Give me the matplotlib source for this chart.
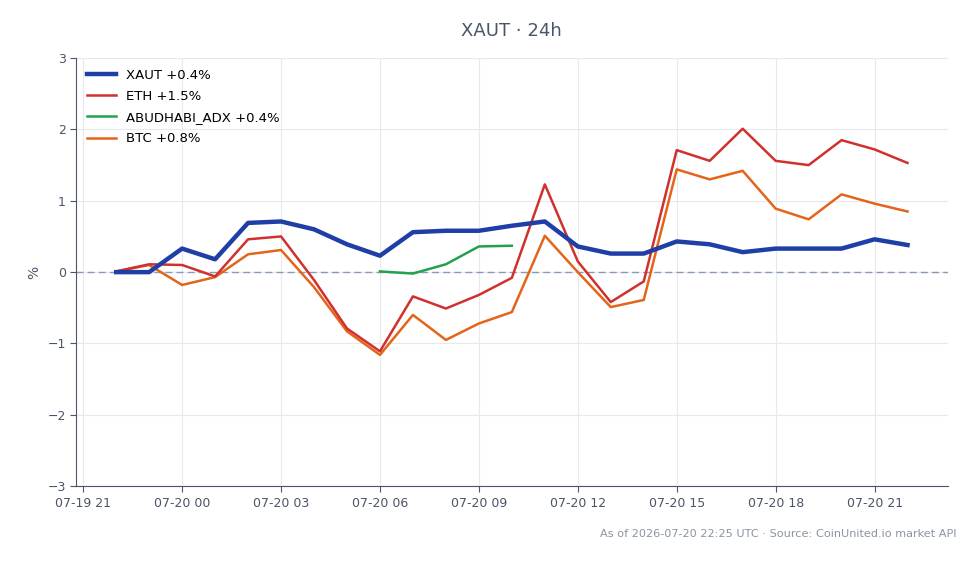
import numpy as np
import pandas as pd
import matplotlib
matplotlib.use("Agg")
import matplotlib.pyplot as plt
import matplotlib.dates as mdates

# hourly points, 07-19 22:00 -> 07-20 22:00
times = pd.date_range("2026-07-19 22:00", "2026-07-20 22:00", freq="h")

xaut = [0.00, 0.00, 0.33, 0.18, 0.69, 0.71, 0.60, 0.39, 0.23, 0.56, 0.58, 0.58, 0.65,
        0.71, 0.36, 0.26, 0.26, 0.43, 0.39, 0.28, 0.33, 0.33, 0.33, 0.46, 0.38]
eth = [0.01, 0.11, 0.10, -0.06, 0.46, 0.50, -0.11, -0.79, -1.11, -0.34, -0.51, -0.32, -0.08,
       1.23, 0.15, -0.42, -0.13, 1.71, 1.56, 2.01, 1.56, 1.50, 1.85, 1.72, 1.53]
btc = [0.01, 0.10, -0.18, -0.07, 0.25, 0.31, -0.21, -0.83, -1.16, -0.60, -0.95, -0.72, -0.56,
       0.51, 0.00, -0.49, -0.39, 1.44, 1.30, 1.42, 0.89, 0.74, 1.09, 0.96, 0.85]
# ADX only trades 06:00 -> 10:00
adx_times = pd.date_range("2026-07-20 06:00", "2026-07-20 10:00", freq="h")
adx = [0.01, -0.02, 0.11, 0.36, 0.37]

labels = ["XAUT +0.4%", "ETH +1.5%", "ABUDHABI_ADX +0.4%", "BTC +0.8%"]

fig = plt.figure(figsize=(9.8, 5.64), dpi=100)
ax = fig.add_axes([0.0776, 0.138, 0.8894, 0.759])

ax.plot(times, xaut, color="#1f3fa6", lw=3.2, label=labels[0], zorder=5)
ax.plot(times, eth, color="#d0312d", lw=1.8, label=labels[1], zorder=4)
ax.plot(adx_times, adx, color="#23a24d", lw=1.8, label=labels[2], zorder=4)
ax.plot(times, btc, color="#e4641a", lw=1.8, label=labels[3], zorder=3)

ax.axhline(0, color="#8a9ab3", lw=1, ls=(0, (5, 3)), zorder=1)

ax.set_ylim(-3, 3)
ax.set_yticks([-3, -2, -1, 0, 1, 2, 3])
ax.set_yticklabels(["\u22123", "\u22122", "\u22121", "0", "1", "2", "3"])
ax.set_xlim(pd.Timestamp("2026-07-19 20:47"), pd.Timestamp("2026-07-20 23:13"))
ax.xaxis.set_major_locator(mdates.HourLocator(byhour=[0, 3, 6, 9, 12, 15, 18, 21]))
ax.xaxis.set_major_formatter(mdates.DateFormatter("%m-%d %H"))
ax.set_ylabel("%", color="#4a5568", fontsize=10)

ax.grid(True, color="#e6e9ee", lw=0.8)
ax.set_axisbelow(True)
for s in ["top", "right"]:
    ax.spines[s].set_visible(False)
for s in ["left", "bottom"]:
    ax.spines[s].set_color("#4a5568")
ax.tick_params(colors="#4a5568", labelsize=9, length=4)

ax.legend(loc="upper left", frameon=False, fontsize=9.5, handlelength=2.2,
          labelspacing=0.62, borderaxespad=0.4)

fig.text(0.522, 0.945, "XAUT \u00b7 24h", ha="center", va="center",
         fontsize=13, color="#4a5568")
fig.text(0.976, 0.053, "As of 2026-07-20 22:25 UTC \u00b7 Source: CoinUnited.io market API",
         ha="right", va="center", fontsize=8.15, color="#8a94a3")

fig.savefig("out.png", dpi=100)
